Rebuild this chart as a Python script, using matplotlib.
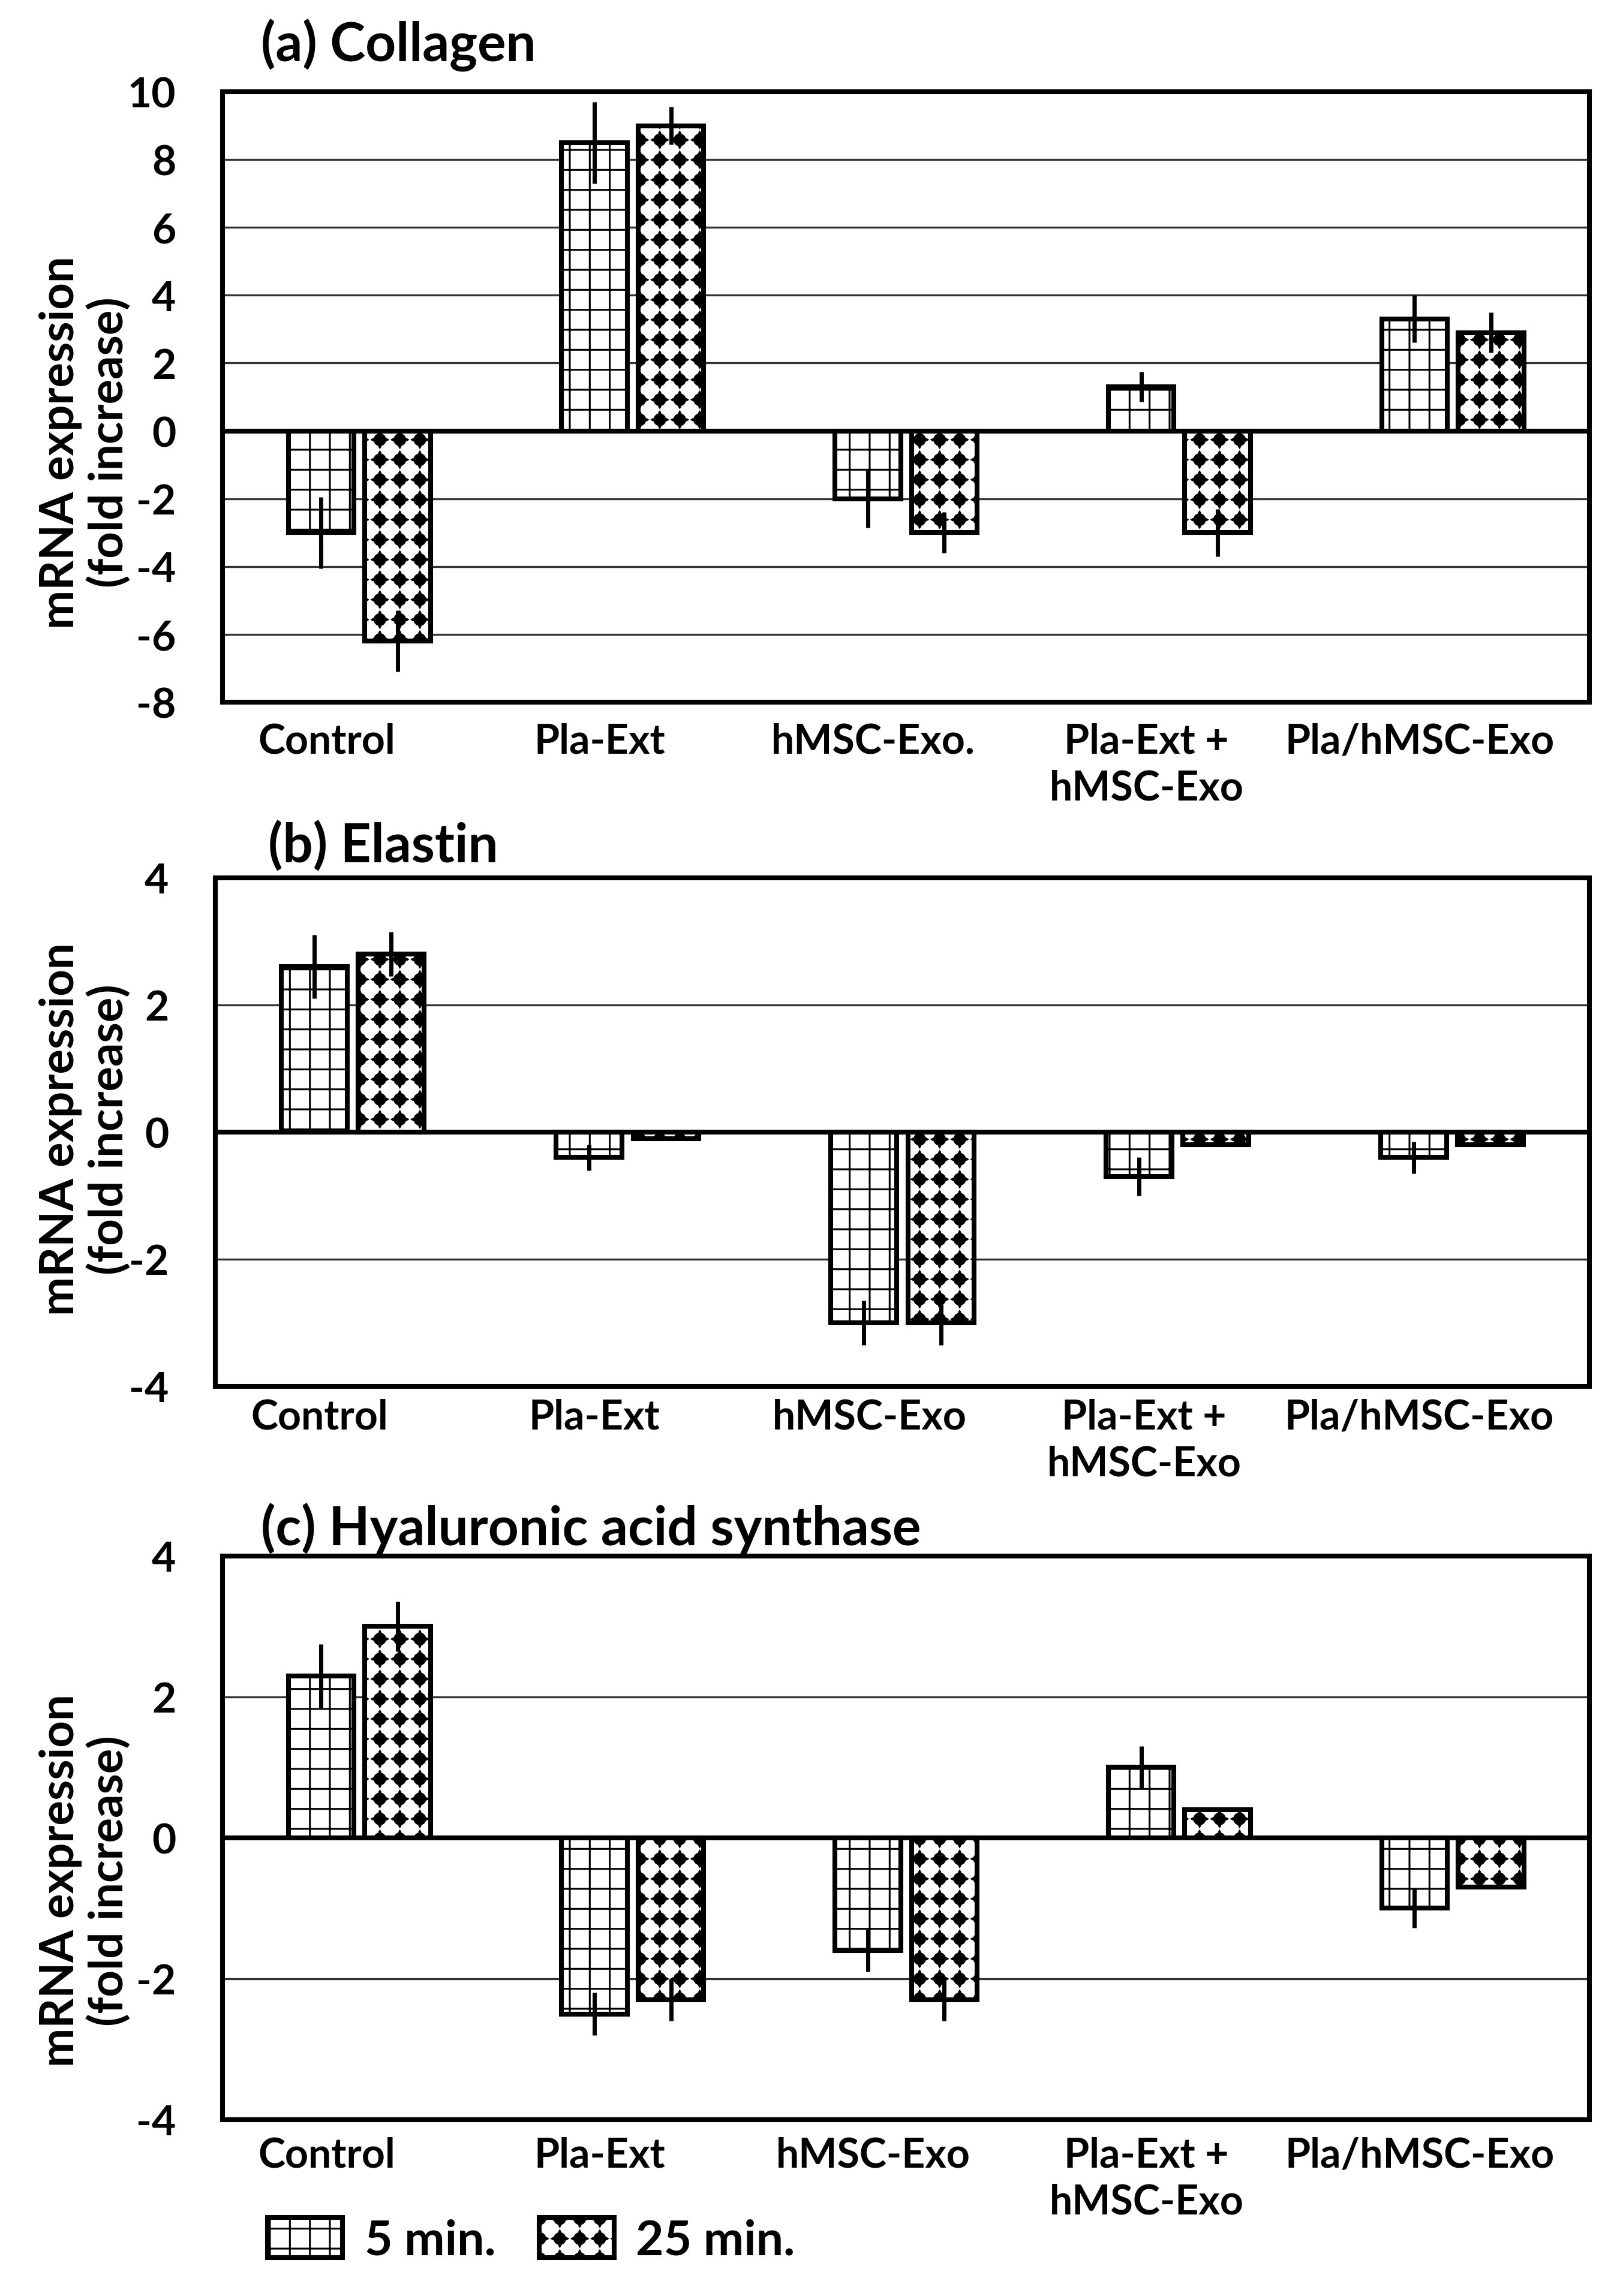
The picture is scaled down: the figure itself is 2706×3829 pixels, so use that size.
import numpy as np
import matplotlib
matplotlib.use('Agg')
import matplotlib.pyplot as plt
import matplotlib.hatch as mhatch
from matplotlib.path import Path

# ---------------- data ----------------
categories_a = ['Control', 'Pla-Ext', 'hMSC-Exo.', 'Pla-Ext +\nhMSC-Exo', 'Pla/hMSC-Exo']
categories_bc = ['Control', 'Pla-Ext', 'hMSC-Exo', 'Pla-Ext +\nhMSC-Exo', 'Pla/hMSC-Exo']
series_labels = ['5 min.', '25 min.']
titles = ['(a) Collagen', '(b) Elastin', '(c) Hyaluronic acid synthase']

collagen_5 = [-3.0, 8.5, -2.0, 1.3, 3.3]
collagen_5_err = [1.05, 1.2, 0.85, 0.45, 0.7]
collagen_25 = [-6.2, 9.0, -3.0, -3.0, 2.9]
collagen_25_err = [0.9, 0.55, 0.6, 0.7, 0.6]

elastin_5 = [2.6, -0.4, -3.0, -0.7, -0.4]
elastin_5_err = [0.5, 0.2, 0.35, 0.3, 0.25]
elastin_25 = [2.8, -0.1, -3.0, -0.2, -0.2]
elastin_25_err = [0.35, 0.0, 0.35, 0.0, 0.0]

has_5 = [2.3, -2.5, -1.6, 1.0, -1.0]
has_5_err = [0.45, 0.3, 0.3, 0.3, 0.28]
has_25 = [3.0, -2.3, -2.3, 0.4, -0.7]
has_25_err = [0.35, 0.3, 0.3, 0.0, 0.0]

yticks_a = [-8, -6, -4, -2, 0, 2, 4, 6, 8, 10]
yticks_bc = [-4, -2, 0, 2, 4]


# ---------------- custom hatch: spiky filled dots on a square grid ----------------
class GridDots(mhatch.HatchPatternBase):
    def __init__(self, hatch, density):
        self.num_rows = int(hatch.count('*') * density)
        t = np.linspace(0, 2 * np.pi, 97)
        rad = 0.27 * (1 + 0.45 * np.abs(np.cos(2 * t)) ** 40)
        verts = np.column_stack([rad * np.cos(t), rad * np.sin(t)])
        codes = np.full(len(verts), Path.LINETO, dtype=Path.code_type)
        codes[0] = Path.MOVETO
        codes[-1] = Path.CLOSEPOLY
        self.shape_vertices = verts
        self.shape_codes = codes
        n = self.num_rows + 1
        self.num_shapes = n * n if self.num_rows else 0
        self.num_vertices = self.num_shapes * len(self.shape_vertices)

    def set_vertices_and_codes(self, vertices, codes):
        offset = 1.0 / self.num_rows
        sv = self.shape_vertices * offset
        vparts, cparts = [], []
        for r in np.linspace(0, 1, self.num_rows + 1):
            for c in np.linspace(0, 1, self.num_rows + 1):
                vparts.append(sv + [c, r])
                cparts.append(self.shape_codes)
        np.concatenate(vparts, out=vertices)
        np.concatenate(cparts, out=codes)


mhatch._hatch_types = [t for t in mhatch._hatch_types if t is not mhatch.Stars] + [GridDots]

plt.rcParams['font.family'] = ['Lato', 'DejaVu Sans']
plt.rcParams['font.weight'] = 'bold'
plt.rcParams['hatch.linewidth'] = 1.1
plt.rcParams['hatch.color'] = 'black'

DPI = 200
fig = plt.figure(figsize=(2706 / DPI, 3830 / DPI), dpi=DPI)
fig.patch.set_facecolor('white')

ax_a = fig.add_axes([0.1372, 0.6940, 0.8421, 0.2658])
ax_b = fig.add_axes([0.1327, 0.3961, 0.8466, 0.2214])
ax_c = fig.add_axes([0.1372, 0.0768, 0.8421, 0.2454])

BW = 0.24
OFF = 0.14
EDGE = 2.9


def draw_panel(ax, cats, v5, e5, v25, e25, yticks, xpad):
    x = np.arange(len(cats))
    for yv in yticks[1:-1]:
        ax.axhline(yv, color='#333333', lw=1.2, zorder=0.5)
    ax.axhline(0, color='black', lw=2.9, zorder=1)
    b1 = ax.bar(x - OFF, v5, BW, color='white', edgecolor='black', linewidth=EDGE,
                hatch='+', zorder=2, label=series_labels[0])
    b2 = ax.bar(x + OFF, v25, BW, color='white', edgecolor='black', linewidth=EDGE,
                hatch='*', zorder=2, label=series_labels[1])
    ax.errorbar(x - OFF, v5, yerr=e5, fmt='none', ecolor='black', elinewidth=2.5,
                capsize=0, zorder=3)
    ax.errorbar(x + OFF, v25, yerr=e25, fmt='none', ecolor='black', elinewidth=2.5,
                capsize=0, zorder=3)
    ax.set_xlim(-0.5, len(cats) - 0.5)
    ax.set_ylim(yticks[0], yticks[-1])
    ax.set_yticks(yticks)
    ax.set_yticklabels([str(t) for t in yticks])
    ax.set_xticks(x - 0.12)
    ax.set_xticklabels(cats, linespacing=1.3)
    ax.tick_params(axis='both', length=0)
    ax.tick_params(axis='y', pad=28, labelsize=25)
    ax.tick_params(axis='x', pad=xpad, labelsize=24.5)
    for lab in ax.get_xticklabels() + ax.get_yticklabels():
        lab.set_fontweight('bold')
    for sp in ax.spines.values():
        sp.set_linewidth(EDGE)
        sp.set_color('black')
    return b1, b2


draw_panel(ax_a, categories_a, collagen_5, collagen_5_err, collagen_25, collagen_25_err, yticks_a, 12)
draw_panel(ax_b, categories_bc, elastin_5, elastin_5_err, elastin_25, elastin_25_err, yticks_bc, 7)
h1, h2 = draw_panel(ax_c, categories_bc, has_5, has_5_err, has_25, has_25_err, yticks_bc, 10)

# titles
fig.text(0.1607, 0.9732, titles[0], ha='left', va='baseline', fontsize=32, fontweight='bold')
fig.text(0.1652, 0.6244, titles[1], ha='left', va='baseline', fontsize=32, fontweight='bold')
fig.text(0.1607, 0.3272, titles[2], ha='left', va='baseline', fontsize=32, fontweight='bold')

# y labels
ylab = 'mRNA expression\n(fold increase)'
for yc in (0.8074, 0.5083, 0.1811):
    fig.text(220 / 2706, yc, ylab, rotation=90, ha='right', va='center',
             multialignment='center', fontsize=28, fontweight='bold', linespacing=1.15)

leg = fig.legend(handles=[h1, h2], labels=series_labels, loc='center left',
                 bbox_to_anchor=(0.165, 0.0243), ncol=2, frameon=False,
                 fontsize=29, handlelength=1.55, handleheight=0.9,
                 handletextpad=0.45, columnspacing=0.9, borderpad=0, borderaxespad=0)
for t in leg.get_texts():
    t.set_fontweight('bold')

fig.savefig('out.png', dpi=DPI, facecolor='white')
